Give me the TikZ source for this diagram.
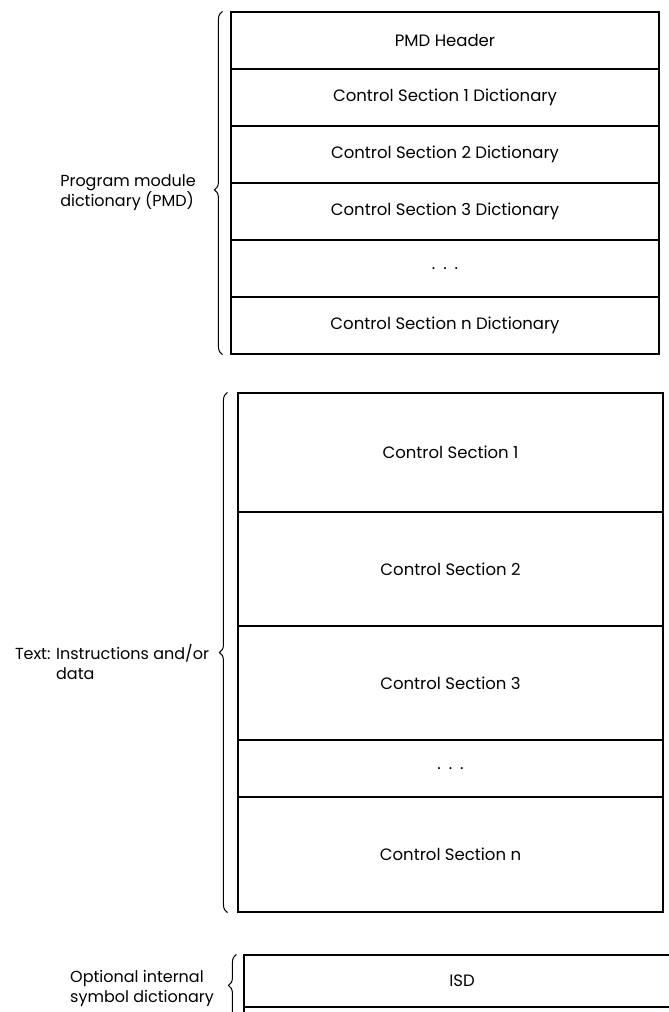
\documentclass[tikz,border=0pt]{standalone}
\usepackage{fontspec}
\setmainfont{Poppins}
\usepackage{tikz}
\usetikzlibrary{calc,decorations.pathreplacing}

\begin{document}
\begin{tikzpicture}[x=1pt,y=-1pt,
    row/.style={rectangle, draw, line width=1.1pt, inner sep=0pt,
        font=\fontsize{16.5}{18}\selectfont},
    brace/.style={decorate, decoration={brace, amplitude=8pt}, line width=1pt},
    lbl/.style={align=left, inner sep=0pt, font=\fontsize{16}{20}\selectfont}]
    \useasboundingbox (0,0) rectangle (669,1012);
    \clip (0,0) rectangle (669,1012);
            % program module dictionary
            \node (hdr) at (445,40.5) [row, minimum width=428pt, minimum height=57pt] {PMD Header};
            \node (cs1d) at (445,97.5) [row, minimum width=428pt, minimum height=57pt] {Control Section 1 Dictionary};
            \node (cs2d) at (445,154.5) [row, minimum width=428pt, minimum height=57pt] {Control Section 2 Dictionary};
            \node (cs3d) at (445,211.5) [row, minimum width=428pt, minimum height=57pt] {Control Section 3 Dictionary};
            \node (dotsd) at (445,268.5) [row, minimum width=428pt, minimum height=57pt] {.\hspace{8pt}.\hspace{8pt}.};
            \node (csnd) at (445,325.5) [row, minimum width=428pt, minimum height=57pt] {Control Section n Dictionary};
            \draw [brace, decoration={aspect=0.48}] ([xshift=-8pt]csnd.south west) -- ([xshift=-8pt]hdr.north west);
            \node (pmdlbl) at (128,193) [lbl] {Program module\\dictionary (PMD)};
            % text
            \node (cs1) at (450.5,452.5) [row, minimum width=425pt, minimum height=119pt] {Control Section 1};
            \node (cs2) at (450.5,569) [row, minimum width=425pt, minimum height=114pt] {Control Section 2};
            \node (cs3) at (450.5,683) [row, minimum width=425pt, minimum height=114pt] {Control Section 3};
            \node (dots) at (450.5,768.5) [row, minimum width=425pt, minimum height=57pt] {.\hspace{8pt}.\hspace{8pt}.};
            \node (csn) at (450.5,854.5) [row, minimum width=425pt, minimum height=115pt] {Control Section n};
            \draw [brace] ([xshift=-10pt]csn.south west) -- ([xshift=-10pt]cs1.north west);
            \node (txtlbl) at (112,662) [lbl] {Text: Instructions and/or\\\hphantom{Text: }data};
            % internal symbol dictionary
            \node (isd) at (462,981) [row, minimum width=436pt, minimum height=52pt] {ISD};
            \node (isdrest) at (462,1023.5) [row, minimum width=436pt, minimum height=33pt] {};
            \draw [brace, decoration={aspect=0.64}] ([xshift=-7pt]isdrest.south west) -- ([xshift=-7pt]isd.north west);
            \node (isdlbl) at (142,988) [lbl] {Optional internal\\symbol dictionary};
    \end{tikzpicture}
\end{document}
